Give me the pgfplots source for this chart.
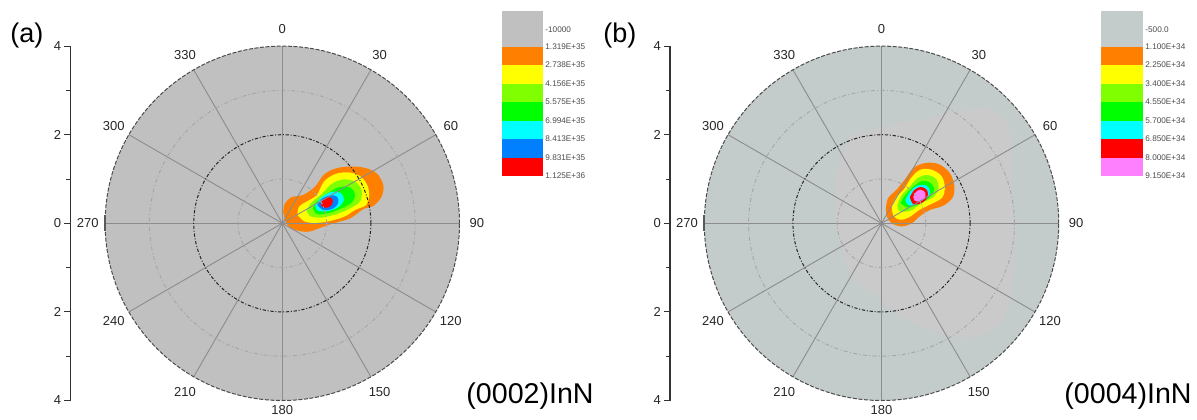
\documentclass[border=0pt]{standalone}
\usepackage{pgfplots}
\pgfplotsset{compat=1.18}
\usepackage{fontspec}
\setmainfont{Liberation Sans}
\definecolor{cOr}{RGB}{255,128,0}
\definecolor{cYe}{RGB}{255,255,0}
\definecolor{cLg}{RGB}{128,255,0}
\definecolor{cGr}{RGB}{0,255,0}
\definecolor{cCy}{RGB}{0,255,255}
\definecolor{cBl}{RGB}{0,128,255}
\definecolor{cRe}{RGB}{255,0,0}
\definecolor{cPk}{RGB}{255,128,255}
\definecolor{bgA}{RGB}{192,192,192}
\definecolor{bgB}{RGB}{195,203,203}
\definecolor{bgB2}{RGB}{202,202,202}
\pgfplotsset{
 pole/.style={x=22.15pt, y=22.15pt, anchor=origin, clip=false,
   axis x line=none, axis y line*=left, ymin=-4, ymax=4, xmax=4.6,
   ytick={-4,-2,0,2,4}, yticklabels={4,2,0,2,4}, minor ytick={-3,-1,1,3},
   tick align=outside, major tick length=3pt, minor tick length=2pt,
   y axis line style={line width=0.6pt, black!80},
   every tick/.style={line width=0.5pt, black!80},
   yticklabel style={font=\fontsize{6.5}{7}\selectfont, text=black!85, xshift=2pt}},
 cont/.style={draw=none, fill=#1, smooth, tension=0.55, mark=none, forget plot}
}
\tikzset{
 spoke/.style={draw=black!45, line width=0.45pt},
 gA/.style={draw=black!35, line width=0.45pt, dash pattern=on 2pt off 1.2pt on 0.5pt off 1.2pt},
 gB/.style={draw=black!85, line width=0.5pt, dash pattern=on 1.6pt off 0.9pt on 0.5pt off 0.9pt},
 gO/.style={draw=black!70, line width=0.5pt, dash pattern=on 2pt off 0.8pt},
 lab/.style={font=\fontsize{6.5}{7}\selectfont, text=black!85},
 key/.style={font=\fontsize{4.1}{5}\selectfont, text=black!70, anchor=west, inner sep=0.5pt}
}
\begin{document}
\begin{tikzpicture}[x=1pt,y=1pt]
\useasboundingbox (0,0) rectangle (598.5,209.5);
% ---------------- panel (a)
\def\ax{141.15}\def\ay{97.85}
\fill[bgA] (\ax,\ay) circle[radius=88.6];
\begin{axis}[pole, at={(141.15pt,97.85pt)}, xmin=-4.79]
\addplot[cont=cOr] coordinates {(0.02,0.26) (0.06,0.45) (0.21,0.59) (0.47,0.64) (0.74,0.83) (0.93,1.09) (1.15,1.22) (1.45,1.28) (1.83,1.26) (2.13,1.13) (2.28,0.86) (2.24,0.60) (2.05,0.39) (1.83,0.32) (1.53,0.11) (1.19,0.01) (0.89,-0.09) (0.59,-0.19) (0.29,-0.15) (0.10,-0.02) (0.02,0.26)};
\addplot[cont=cYe] coordinates {(0.34,0.19) (0.38,0.38) (0.55,0.49) (0.78,0.64) (0.94,0.94) (1.19,1.11) (1.49,1.15) (1.75,1.07) (1.92,0.86) (1.96,0.60) (1.89,0.41) (1.64,0.30) (1.42,0.16) (1.11,0.06) (0.78,0.01) (0.51,0.04) (0.34,0.19)};
\addplot[cont=cLg] coordinates {(0.55,0.30) (0.66,0.47) (0.89,0.66) (1.11,0.89) (1.38,0.99) (1.64,0.94) (1.79,0.75) (1.75,0.49) (1.53,0.34) (1.23,0.21) (0.89,0.13) (0.63,0.16) (0.55,0.30)};
\addplot[cont=cGr] coordinates {(0.69,0.34) (0.78,0.49) (1.00,0.66) (1.26,0.81) (1.53,0.81) (1.64,0.66) (1.57,0.47) (1.34,0.34) (1.04,0.23) (0.78,0.21) (0.69,0.34)};
\addplot[cont=cCy] coordinates {(0.74,0.40) (0.89,0.59) (1.11,0.71) (1.32,0.68) (1.39,0.54) (1.29,0.38) (1.06,0.28) (0.81,0.28) (0.74,0.40)};
\addplot[cont=cBl] coordinates {(0.79,0.41) (0.89,0.55) (1.08,0.63) (1.24,0.60) (1.26,0.45) (1.14,0.33) (0.93,0.30) (0.79,0.41)};
\addplot[cont=cRe] coordinates {(0.87,0.45) (0.94,0.55) (1.06,0.59) (1.14,0.53) (1.11,0.41) (1.00,0.35) (0.89,0.38) (0.87,0.45)};
\end{axis}
\foreach \t in {0,30,...,330} \draw[spoke] (\ax,\ay) -- ++(\t:88.6);
\draw[gA] (\ax,\ay) circle[radius=22.15];
\draw[gB] (\ax,\ay) circle[radius=44.3];
\draw[gA] (\ax,\ay) circle[radius=66.45];
\draw[gO] (\ax,\ay) circle[radius=88.6];
\draw[line width=1pt, black!65] (\ax-88.6,\ay-4) -- (\ax-88.6,\ay+4);
\foreach \a in {0,30,...,150,210,240,...,330} \path (\ax,\ay) ++({90-\a}:97.3) node[lab] {\a};
\path (\ax,\ay) ++(-90:93.5) node[lab] {180};
\node[font=\fontsize{13.5}{15}\selectfont, anchor=west, inner sep=0pt] at (5,191.5) {(a)};
\node[font=\fontsize{14.3}{16}\selectfont, anchor=east, inner sep=0pt] at (297,11.5) {(0002)InN};
% key (a)
\fill[bgA] (251,204) rectangle (271.5,186.25);
\fill[cOr] (251,186.25) rectangle (271.5,177);
\fill[cYe] (251,177) rectangle (271.5,167.75);
\fill[cLg] (251,167.75) rectangle (271.5,158.5);
\fill[cGr] (251,158.5) rectangle (271.5,149.25);
\fill[cCy] (251,149.25) rectangle (271.5,140);
\fill[cBl] (251,140) rectangle (271.5,130.75);
\fill[cRe] (251,130.75) rectangle (271.5,121.5);
\node[key] at (272,194.5) {-10000};
\node[key] at (272,186.25) {1.319E+35};
\node[key] at (272,177) {2.738E+35};
\node[key] at (272,167.75) {4.156E+35};
\node[key] at (272,158.5) {5.575E+35};
\node[key] at (272,149.25) {6.994E+35};
\node[key] at (272,140) {8.413E+35};
\node[key] at (272,130.75) {9.831E+35};
\node[key] at (272,121.5) {1.125E+36};
% ---------------- panel (b)
\def\bx{440.75}\def\by{97.85}
\fill[bgB] (\bx,\by) circle[radius=88.6];
\begin{axis}[pole, at={(440.75pt,97.85pt)}, xmin=-4.774]
\addplot[cont=bgB2, tension=0.7] coordinates {(-0.71,2.00) (0.87,2.34) (2.67,2.45) (2.95,0.53) (2.90,-1.73) (2.22,-2.52) (1.09,-2.40) (-0.03,-1.73) (-0.82,-0.82) (-1.05,0.76) (-0.71,2.00)};
\addplot[cont=cOr] coordinates {(0.10,0.34) (0.15,0.57) (0.34,0.76) (0.55,1.02) (0.72,1.25) (0.98,1.36) (1.28,1.34) (1.53,1.15) (1.64,0.87) (1.61,0.59) (1.40,0.40) (1.09,0.30) (0.88,0.17) (0.68,0.00) (0.46,-0.07) (0.23,0.00) (0.12,0.15) (0.10,0.34)};
\addplot[cont=cYe] coordinates {(0.23,0.38) (0.33,0.59) (0.51,0.77) (0.68,1.04) (0.88,1.21) (1.13,1.21) (1.36,1.06) (1.43,0.79) (1.36,0.57) (1.09,0.42) (0.85,0.30) (0.63,0.14) (0.42,0.08) (0.27,0.17) (0.23,0.38)};
\addplot[cont=cLg] coordinates {(0.36,0.42) (0.46,0.64) (0.64,0.83) (0.81,1.02) (1.03,1.09) (1.23,1.00) (1.29,0.79) (1.17,0.59) (0.91,0.46) (0.69,0.30) (0.51,0.26) (0.38,0.29) (0.36,0.42)};
\addplot[cont=cGr] coordinates {(0.43,0.46) (0.54,0.64) (0.72,0.83) (0.91,0.95) (1.09,0.92) (1.19,0.76) (1.06,0.57) (0.81,0.42) (0.58,0.36) (0.43,0.46)};
\addplot[cont=cCy] coordinates {(0.54,0.53) (0.64,0.71) (0.81,0.85) (1.02,0.85) (1.10,0.70) (0.99,0.52) (0.76,0.41) (0.59,0.42) (0.54,0.53)};
\addplot[cont=cRe] coordinates {(0.64,0.59) (0.73,0.74) (0.87,0.82) (1.02,0.76) (1.04,0.59) (0.91,0.46) (0.72,0.43) (0.64,0.59)};
\addplot[cont=cPk] coordinates {(0.72,0.61) (0.78,0.71) (0.88,0.76) (0.99,0.69) (0.97,0.56) (0.85,0.49) (0.74,0.52) (0.72,0.61)};
\end{axis}
\foreach \t in {0,30,...,330} \draw[spoke] (\bx,\by) -- ++(\t:88.6);
\draw[gA] (\bx,\by) circle[radius=22.15];
\draw[gB] (\bx,\by) circle[radius=44.3];
\draw[gA] (\bx,\by) circle[radius=66.45];
\draw[gO] (\bx,\by) circle[radius=88.6];
\draw[line width=1pt, black!65] (\bx-88.6,\by-4) -- (\bx-88.6,\by+4);
\foreach \a in {0,30,...,150,210,240,...,330} \path (\bx,\by) ++({90-\a}:97.3) node[lab] {\a};
\path (\bx,\by) ++(-90:93.5) node[lab] {180};
\node[font=\fontsize{13.5}{15}\selectfont, anchor=west, inner sep=0pt] at (301.5,191.5) {(b)};
\node[font=\fontsize{14.3}{16}\selectfont, anchor=east, inner sep=0pt] at (596,11.5) {(0004)InN};
% key (b)
\fill[bgB] (550.5,204) rectangle (571.5,186.25);
\fill[cOr] (550.5,186.25) rectangle (571.5,177);
\fill[cYe] (550.5,177) rectangle (571.5,167.75);
\fill[cLg] (550.5,167.75) rectangle (571.5,158.5);
\fill[cGr] (550.5,158.5) rectangle (571.5,149.25);
\fill[cCy] (550.5,149.25) rectangle (571.5,140);
\fill[cRe] (550.5,140) rectangle (571.5,130.75);
\fill[cPk] (550.5,130.75) rectangle (571.5,121.5);
\node[key] at (572,194.5) {-500.0};
\node[key] at (572,186.25) {1.100E+34};
\node[key] at (572,177) {2.250E+34};
\node[key] at (572,167.75) {3.400E+34};
\node[key] at (572,158.5) {4.550E+34};
\node[key] at (572,149.25) {5.700E+34};
\node[key] at (572,140) {6.850E+34};
\node[key] at (572,130.75) {8.000E+34};
\node[key] at (572,121.5) {9.150E+34};
\end{tikzpicture}
\end{document}
